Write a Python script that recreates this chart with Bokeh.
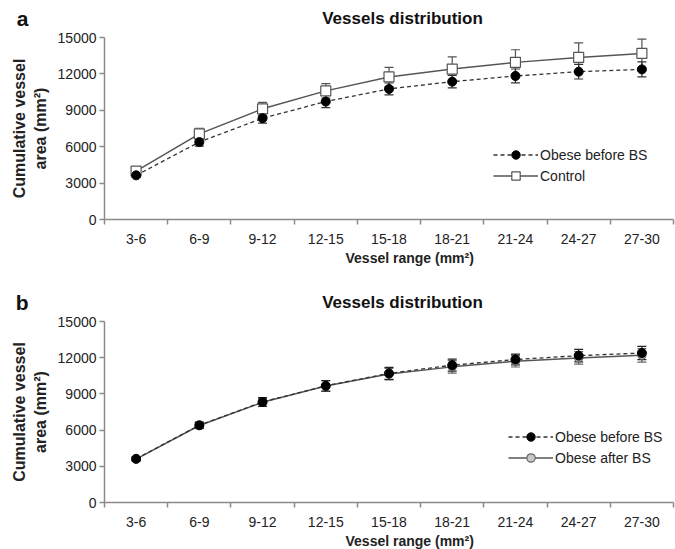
from bokeh.plotting import figure
from bokeh.models import (ColumnDataSource, Range1d, FixedTicker, Whisker, TeeHead,
                          Legend, LegendItem, Label, Title)
from bokeh.layouts import column
from bokeh.embed import file_html
from bokeh.resources import INLINE

categories = ["3-6", "6-9", "9-12", "12-15", "15-18", "18-21", "21-24", "24-27", "27-30"]
y_ticks = [0, 3000, 6000, 9000, 12000, 15000]

# Panel a
a_obese = [3640, 6380, 8350, 9720, 10760, 11360, 11830, 12180, 12370]
a_obese_err = [180, 340, 400, 500, 490, 520, 575, 600, 620]
a_control = [3990, 7060, 9120, 10600, 11750, 12400, 12950, 13360, 13690]
a_control_err = [250, 460, 540, 600, 790, 1010, 1040, 1200, 1180]

# Panel b
b_before = [3620, 6400, 8330, 9670, 10700, 11380, 11850, 12170, 12390]
b_before_err = [170, 260, 370, 440, 490, 500, 450, 520, 550]
b_after = [3600, 6380, 8300, 9650, 10640, 11240, 11710, 11980, 12200]
b_after_err = [170, 250, 330, 430, 480, 520, 480, 520, 560]

FONT = "Liberation Sans"
AXIS_COL = "#8a8a8a"
TXT_COL = "#222222"

x = [i + 0.5 for i in range(len(categories))]


def src(vals, errs):
    return ColumnDataSource(dict(
        x=x, y=vals,
        upper=[v + e for v, e in zip(vals, errs)],
        lower=[v - e for v, e in zip(vals, errs)],
    ))


def header(height, top, letter, y_mid):
    h = figure(width=675, height=height, x_range=Range1d(0, 1), y_range=Range1d(0, 1),
               output_backend="svg", toolbar_location=None, x_axis_type=None,
               min_border_left=104, min_border_right=2, min_border_top=top,
               min_border_bottom=0, title=None)
    h.outline_line_color = None
    h.xgrid.visible = False
    h.ygrid.visible = False
    ya = h.yaxis[0]
    ya.ticker = FixedTicker(ticks=[])
    ya.axis_line_color = None
    ya.major_tick_line_color = None
    ya.minor_tick_line_color = None
    ya.major_label_text_font_size = "0px"
    ya.axis_label = letter
    ya.axis_label_orientation = "horizontal"
    ya.axis_label_standoff = 76
    ya.axis_label_text_font = FONT
    ya.axis_label_text_font_style = "bold"
    ya.axis_label_text_font_size = "21px"
    ya.axis_label_text_color = "#111111"
    h.add_layout(Label(x=402, y=y_mid, x_units="canvas", y_units="canvas",
                       text="Vessels distribution", text_align="center",
                       text_baseline="middle", text_font=FONT, text_font_style="bold",
                       text_font_size="17px", text_color="#111111"))
    return h


def base(height, top, bottom):
    p = figure(width=675, height=height, x_range=Range1d(0, len(categories)),
               y_range=Range1d(0, 15000), output_backend="svg", toolbar_location=None,
               min_border_left=104, min_border_right=2, min_border_top=top,
               min_border_bottom=bottom, title=None)
    p.xgrid.visible = False
    p.ygrid.visible = False
    p.outline_line_color = None

    ya = p.yaxis[0]
    ya.ticker = FixedTicker(ticks=y_ticks)
    ya.axis_line_color = AXIS_COL
    ya.axis_line_width = 1.5
    ya.major_tick_line_color = AXIS_COL
    ya.major_tick_line_width = 1.5
    ya.major_tick_out = 5
    ya.major_tick_in = 0
    ya.minor_tick_line_color = None
    ya.major_label_standoff = 3
    ya.major_label_text_font = FONT
    ya.major_label_text_font_size = "14px"
    ya.major_label_text_color = TXT_COL
    ya.axis_label = "Cumulative vessel\narea (mm²)"
    ya.axis_label_text_font = FONT
    ya.axis_label_text_font_style = "bold"
    ya.axis_label_text_font_size = "16px"
    ya.axis_label_text_color = TXT_COL
    ya.axis_label_standoff = 6

    xa = p.xaxis[0]
    xa.ticker = FixedTicker(ticks=x, minor_ticks=list(range(len(categories) + 1)))
    xa.major_label_overrides = {xi: c for xi, c in zip(x, categories)}
    xa.axis_line_color = AXIS_COL
    xa.axis_line_width = 1.5
    xa.major_tick_out = 0
    xa.major_tick_in = 0
    xa.major_tick_line_color = None
    xa.minor_tick_line_color = AXIS_COL
    xa.minor_tick_line_width = 1.5
    xa.minor_tick_out = 5
    xa.minor_tick_in = 0
    xa.major_label_standoff = 9
    xa.major_label_text_font = FONT
    xa.major_label_text_font_size = "14px"
    xa.major_label_text_color = TXT_COL

    p.add_layout(Title(text="Vessel range (mm²)", align="left", offset=241,
                       text_font=FONT, text_font_style="bold", text_font_size="14px",
                       text_color=TXT_COL, standoff=2), "below")
    return p


def whisker(p, s, color):
    w = Whisker(source=s, base="x", upper="upper", lower="lower", line_color=color,
                line_width=1.2,
                upper_head=TeeHead(size=9, line_color=color, line_width=1.2),
                lower_head=TeeHead(size=9, line_color=color, line_width=1.2))
    p.add_layout(w)


def style_legend(p, items, loc):
    lg = Legend(items=items, location=loc, padding=0, margin=0, spacing=0,
                glyph_width=45, glyph_height=21, label_height=21, label_standoff=2,
                border_line_alpha=0, background_fill_alpha=0,
                label_text_font=FONT, label_text_font_size="14px",
                label_text_color=TXT_COL)
    p.add_layout(lg)


# ---------- Panel a ----------
ha = header(30, 5, "a", 17.5)
pa = base(244, 7, 55)
sa_o = src(a_obese, a_obese_err)
sa_c = src(a_control, a_control_err)
whisker(pa, sa_c, "#555555")
whisker(pa, sa_o, "#333333")
lc = pa.line("x", "y", source=sa_c, line_color="#555555", line_width=1.5)
mc = pa.scatter("x", "y", source=sa_c, marker="square", size=10, fill_color="white",
                line_color="#555555", line_width=1.2)
lo = pa.line("x", "y", source=sa_o, line_color="#333333", line_width=1.3, line_dash="4 3")
mo = pa.scatter("x", "y", source=sa_o, marker="circle", size=9, fill_color="black",
                line_color="black")
style_legend(pa, [LegendItem(label="Obese before BS", renderers=[lo, mo]),
                  LegendItem(label="Control", renderers=[lc, mc])], (389, 33))

# ---------- Panel b ----------
hb = header(40, 16, "b", 28)
pb = base(235, 7, 45)
sb_b = src(b_before, b_before_err)
sb_a = src(b_after, b_after_err)
whisker(pb, sb_a, "#666666")
whisker(pb, sb_b, "#222222")
la = pb.line("x", "y", source=sb_a, line_color="#555555", line_width=1.5)
ma = pb.scatter("x", "y", source=sb_a, marker="circle", size=8, fill_color="#c8c8c8",
                line_color="#666666", line_width=1.2)
lb = pb.line("x", "y", source=sb_b, line_color="#333333", line_width=1.3, line_dash="4 3")
mb = pb.scatter("x", "y", source=sb_b, marker="circle", size=9, fill_color="black",
                line_color="black")
style_legend(pb, [LegendItem(label="Obese before BS", renderers=[lb, mb]),
                  LegendItem(label="Obese after BS", renderers=[la, ma])], (404, 34))

layout = column(ha, pa, hb, pb, spacing=0)
open("out.html", "w").write(file_html(layout, INLINE))
